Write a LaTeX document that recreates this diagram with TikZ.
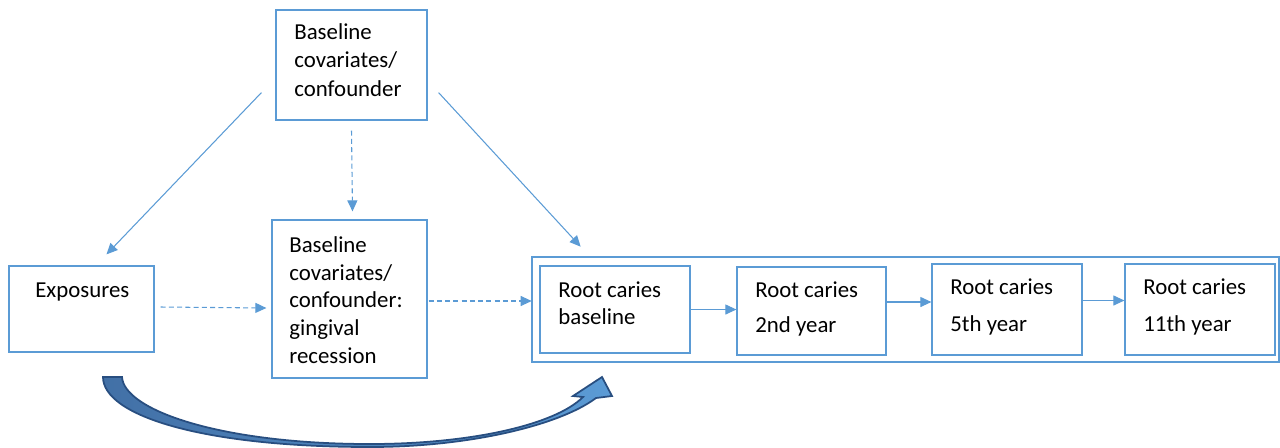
\documentclass[tikz,border=0pt]{standalone}
\usepackage{fontspec}
\setmainfont{Carlito}
\usetikzlibrary{arrows.meta, fit, calc}
\definecolor{boxblue}{RGB}{91,155,213}
\definecolor{arcdark}{RGB}{66,112,166}
\definecolor{arcline}{RGB}{40,78,128}

\begin{document}
\begin{tikzpicture}[x=0.02cm, y=-0.02cm,
  box/.style={draw=boxblue, line width=0.7pt, inner sep=0pt},
  txt/.style={anchor=base west, inner sep=0pt, align=left, font=\fontsize{13}{#1}\selectfont},
  txt/.default=15.8pt,
  conn/.style={draw=boxblue, line width=0.6pt, -{Triangle[length=0.22cm, width=0.2cm]}},
  dashconn/.style={dash pattern=on 2.8pt off 1.9pt},
  bigarrow/.style={draw=arcline, line width=1pt, left color=arcdark, right color=boxblue}]
  \useasboundingbox (0,0) rectangle (1280,447);
  % boxes (text nodes sit on the baseline of their last line)
  \node[box, fit={(276,10) (427,120)}] (base) {};
  \node[txt=16.2pt] (baset) at (294,96) {Baseline\\covariates/\\confounder};
  \node[box, fit={(9,266) (154,352)}] (expo) {};
  \node[txt] (expot) at (35,297) {Exposures};
  \node[box, fit={(272,220) (427,378)}] (mid) {};
  \node[txt=15.7pt] (midt) at (289,363) {Baseline\\covariates/\\confounder:\\gingival\\recession};
  \node[box, fit={(532,257) (1279,362)}, line width=1.5pt] (cont) {};
  \node[box, fit={(540,266) (690,353)}] (rc1) {};
  \node[txt=15.3pt] (rc1t) at (558,324) {Root caries\\baseline};
  \node[box, fit={(737,267) (886,355)}] (rc2) {};
  \node[txt=19.8pt] (rc2t) at (755,332) {Root caries\\2nd year};
  \node[box, fit={(932,264) (1082,355)}] (rc3) {};
  \node[txt=21pt] (rc3t) at (950,331) {Root caries\\5th year};
  \node[box, fit={(1125,264) (1275,355)}] (rc4) {};
  \node[txt=21pt] (rc4t) at (1143,331) {Root caries\\11th year};
  % connectors
  \draw[conn] ([shift={(-14,-28)}]base.south west) -- ([shift={(25,-11)}]expo.north);
  \draw[conn] ([shift={(11,-28)}]base.south east) -- ([shift={(50,-9)}]cont.north west);
  \draw[conn, dashconn] ([shift={(0,10)}]base.south) -- ([shift={(3,-8)}]mid.north);
  \draw[conn, dashconn] ([shift={(6,-2)}]expo.east) -- ([shift={(-5,9)}]mid.west);
  \draw[conn, dashconn] ([shift={(1,2)}]mid.east) -- ([shift={(1,2)}]mid.east -| cont.west);
  \draw[conn] (rc1.east) -- (rc1.east -| rc2.west);
  \draw[conn] ([shift={(0,-9)}]rc2.east) -- ([shift={(0,-9)}]rc2.east -| rc3.west);
  \draw[conn] ([shift={(0,-9)}]rc3.east) -- ([shift={(0,-9)}]rc3.east -| rc4.west);
  % curved block arrow
  \path[bigarrow] (103,377) .. controls (103,415) and (200,447) .. (370,447)
    .. controls (470,447) and (560,425) .. (596,398) -- (612,396) -- (602,377)
    -- (573,396) -- (583,397) .. controls (555,425) and (470,444) .. (370,444)
    .. controls (220,444) and (124,410) .. (122,377) -- cycle;
\end{tikzpicture}
\end{document}
